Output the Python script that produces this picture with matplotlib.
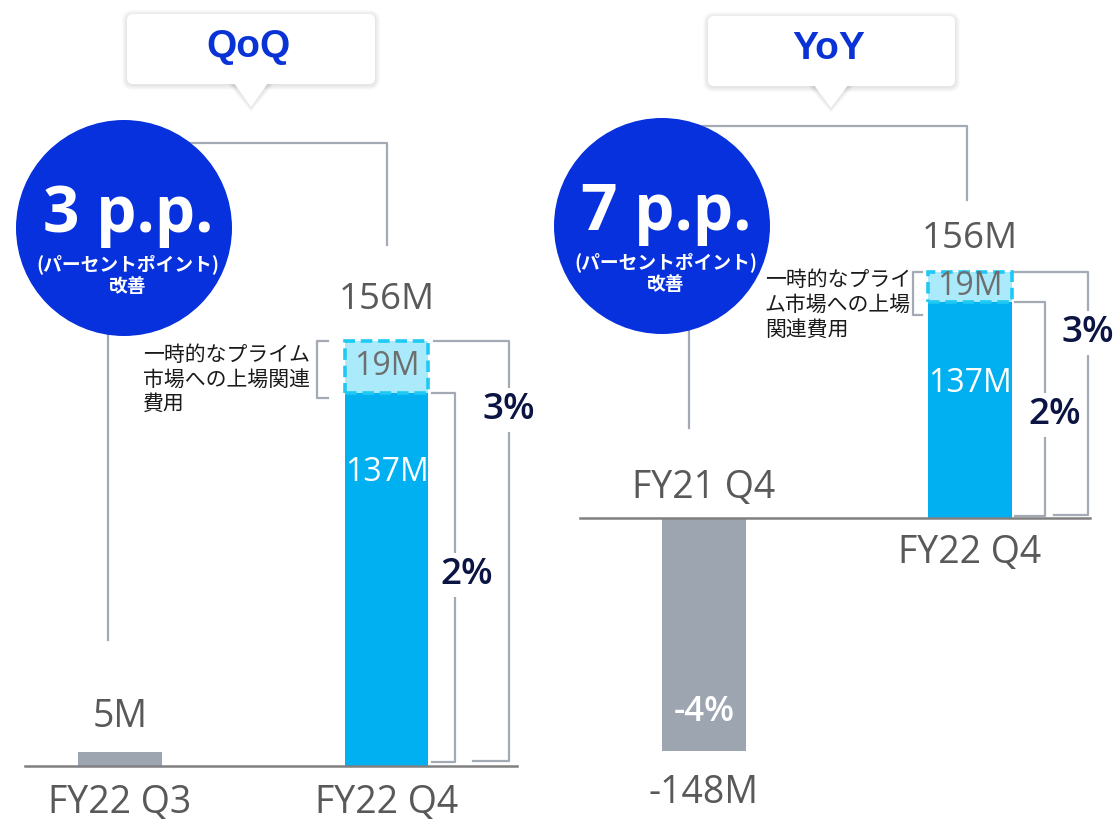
import matplotlib
matplotlib.use('Agg')
import matplotlib.pyplot as plt
from matplotlib.patches import Circle, FancyBboxPatch, Polygon

plt.rcParams['font.family'] = ['Open Sans', 'Noto Sans CJK JP', 'DejaVu Sans']

# data (million yen)
qoq_periods = ['FY22 Q3', 'FY22 Q4']
qoq_base = [5, 137]          # profit without one-off cost
qoq_oneoff = [0, 19]         # one-off listing cost
qoq_margin = ['', '2%']
qoq_margin_total = '3%'
qoq_change = '3 p.p.'

yoy_periods = ['FY21 Q4', 'FY22 Q4']
yoy_base = [-148, 137]
yoy_oneoff = [0, 19]
yoy_margin = ['-4%', '2%']
yoy_margin_total = '3%'
yoy_change = '7 p.p.'

note_qoq = '一時的なプライム\n市場への上場関連\n費用'
note_yoy = '一時的なプライ\nム市場への上場\n関連費用'

BLUE = '#00B0F0'
LIGHT = '#AAEAFB'
DASH = '#1FC9F3'
GRAY_BAR = '#9DA5B1'
LINE = '#A3AAB4'
TXT = '#595959'
NAVY = '#0B1442'
CIRCLE = '#0731DC'

fig = plt.figure(figsize=(11.18, 8.21), dpi=100)
axL = fig.add_axes([0, 0, 559 / 1118, 1])
axR = fig.add_axes([559 / 1118, 0, 559 / 1118, 1])
ov = fig.add_axes([0, 0, 1, 1], zorder=5)
ov.set_xlim(0, 1118)
ov.set_ylim(821, 0)
ov.axis('off')
ov.patch.set_alpha(0)

axL.set_xlim(-0.4503, 1.6473)
axL.set_ylim(-20.19, 281.2)
axR.set_xlim(-0.5451, 1.5564)
axR.set_ylim(-192.15, 328.5)


def panel(ax, base, oneoff, periods, margin, margin_total, note, p):
    x = [0, 1]
    w = 0.315
    ax.axis('off')
    ax.bar(x, base, width=w, color=[GRAY_BAR, BLUE], zorder=2)
    top = base[1] + oneoff[1]
    ax.bar([1], [oneoff[1]], bottom=[base[1]], width=w, color=LIGHT,
           edgecolor=DASH, linewidth=2.6, linestyle=(0, (3.2, 1.6)), zorder=3)
    # baseline
    ax.plot(p['base_x'], [0, 0], color='#808080', lw=1.8, zorder=4)

    # value labels
    ax.text(1, top + p['top_lbl'], f'{top}M', ha='center', va='center', fontsize=26.5, color=TXT)
    ax.text(1, base[1] + oneoff[1] / 2, f'{oneoff[1]}M', ha='center', va='center',
            fontsize=23, color='#6E6E6E', zorder=5)
    ax.text(1, p['in_lbl'], f'{base[1]}M', ha='center', va='center', fontsize=23, color='white', zorder=5)
    ax.text(0, p['first_lbl'], f'{base[0]}M', ha='center', va='center', fontsize=27, color=TXT)
    if margin[0]:
        ax.text(0, p['first_pct'], margin[0], ha='center', va='center', fontsize=25,
                color='white', fontweight='semibold', zorder=5)

    # category labels
    for i in range(2):
        ax.text(i, p['cat_y'][i], periods[i], ha='center', va='center', fontsize=27, color=TXT)

    # bracket for the one-off cost note
    nx0, nx1 = p['note_br']
    ax.plot([nx1, nx0, nx0, nx1], [top, top, p['note_low'], p['note_low']], color=LINE, lw=1.6)
    ax.text(p['note_x'], top + p['note_dy'], note, ha='left', va='top', fontsize=15,
            color='#1A1A1A', linespacing=1.22)

    # margin brackets
    ix0, ix1 = p['inner']
    ax.plot([1 + ix0, 1 + ix1, 1 + ix1, 1 + ix0], [base[1], base[1], 1.5, 1.5], color=LINE, lw=1.6)
    ax.text(1 + p['inner_lbl_x'], p['inner_lbl_y'], margin[1], ha='center', va='center', fontsize=26.5,
            color=NAVY, fontweight='semibold', bbox=dict(fc='white', ec='none', pad=3))
    ox0, ox1, ob = p['outer']
    ax.plot([1 + ox0, 1 + ox1, 1 + ox1, 1 + ob], [top, top, 2, 2], color=LINE, lw=1.6)
    ax.text(1 + ox1, p['outer_lbl_y'], margin_total, ha='center', va='center', fontsize=26.5,
            color=NAVY, fontweight='semibold', bbox=dict(fc='white', ec='none', pad=3))


panel(axL, qoq_base, qoq_oneoff, qoq_periods, qoq_margin, qoq_margin_total, note_qoq,
      dict(base_x=[-0.356, 1.49], top_lbl=15, in_lbl=107.6, first_lbl=18, first_pct=0,
           cat_y=[-13.6, -13.6], note_br=(0.739, 0.78), note_low=135, note_x=0.086, note_dy=-1.5,
           inner=(0.171, 0.257), inner_lbl_x=0.30, inner_lbl_y=70,
           outer=(0.178, 0.46, 0.325), outer_lbl_y=130.7))

panel(axR, yoy_base, yoy_oneoff, yoy_periods, yoy_margin, yoy_margin_total, note_yoy,
      dict(base_x=[-0.466, 1.451], top_lbl=21, in_lbl=85.6, first_lbl=-174.4, first_pct=-123,
           cat_y=[19, -22], note_br=(0.786, 0.82), note_low=129, note_x=0.229, note_dy=1,
           inner=(0.169, 0.282), inner_lbl_x=0.32, inner_lbl_y=65.3,
           outer=(0.158, 0.444, 0.316), outer_lbl_y=117.3))


# callout boxes
def callout(x0, y0, w, h, tip_x, tip_y, label):
    for i in range(1, 6):
        ov.add_patch(FancyBboxPatch((x0 - i, y0 - i + 1), w + 2 * i, h + 2 * i,
                                    boxstyle='round,pad=0,rounding_size=%d' % (6 + i),
                                    fc='black', ec='none', alpha=0.018))
        ov.add_patch(Polygon([(tip_x - 18 - i, y0 + h), (tip_x + 18 + i, y0 + h), (tip_x, tip_y + i)],
                             fc='black', ec='none', alpha=0.018))
    ov.add_patch(FancyBboxPatch((x0, y0), w, h, boxstyle='round,pad=0,rounding_size=6',
                                fc='white', ec='none'))
    ov.add_patch(Polygon([(tip_x - 17, y0 + h - 1), (tip_x + 17, y0 + h - 1), (tip_x, tip_y)],
                         fc='white', ec='none'))
    ov.text(x0 + w / 2 - 3, y0 + h / 2 - 2, label, ha='center', va='center', fontsize=28,
            color='#0A33D6', fontweight='bold', family='Liberation Sans')


callout(127, 14, 248, 70, 251, 107, 'QoQ')
callout(708, 16, 247, 70, 831, 108, 'YoY')

# connector lines
ov.plot([124, 387, 387], [143, 143, 245], color=LINE, lw=1.6, zorder=1)
ov.plot([108, 108], [300, 640], color=LINE, lw=1.6, zorder=1)
ov.plot([662, 967, 967], [126, 126, 200], color=LINE, lw=1.6, zorder=1)
ov.plot([689, 689], [300, 428], color=LINE, lw=1.6, zorder=1)


# circles with the margin improvement
def badge(cx, cy, text):
    ov.add_patch(Circle((cx, cy), 108, fc=CIRCLE, ec='none', zorder=2))
    ov.text(cx + 4, cy - 13, text, ha='center', va='center', fontsize=46, color='white',
            fontweight='bold', zorder=3)
    ov.text(cx + 4, cy + 36, '(パーセントポイント)', ha='center', va='center', fontsize=13.5,
            color='white', fontweight='bold', zorder=3, family=['Noto Sans CJK JP'])
    ov.text(cx + 4, cy + 59, '改善', ha='center', va='center', fontsize=13.5,
            color='white', fontweight='bold', zorder=3, family=['Noto Sans CJK JP'])


badge(124, 228, qoq_change)
badge(662, 226, yoy_change)

fig.savefig('out.png', dpi=100, facecolor='white')
